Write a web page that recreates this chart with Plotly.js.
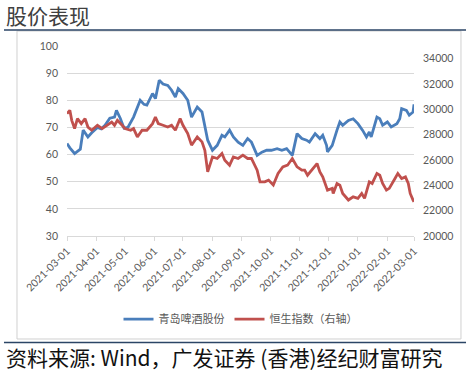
<!DOCTYPE html>
<html><head><meta charset="utf-8">
<script src="https://cdn.plot.ly/plotly-3.0.1.min.js"></script>
<style>html,body{margin:0;padding:0;background:#fff;}#chart{width:468px;height:376px;}</style>
</head><body><div id="chart"></div>
<script>
const seriesNames = ['青岛啤酒股份', '恒生指数（右轴）'];
const qdDates = ['2021-03-01','2021-03-04','2021-03-09','2021-03-15','2021-03-18','2021-03-23','2021-03-27','2021-04-02','2021-04-06','2021-04-10','2021-04-15','2021-04-20','2021-04-22','2021-04-26','2021-04-30','2021-05-04','2021-05-10','2021-05-14','2021-05-17','2021-05-21','2021-05-24','2021-05-30','2021-06-02','2021-06-06','2021-06-10','2021-06-15','2021-06-19','2021-06-23','2021-06-26','2021-07-01','2021-07-06','2021-07-10','2021-07-16','2021-07-21','2021-07-24','2021-07-27','2021-08-01','2021-08-06','2021-08-11','2021-08-14','2021-08-19','2021-08-23','2021-08-28','2021-09-02','2021-09-07','2021-09-11','2021-09-17','2021-09-22','2021-09-27','2021-10-02','2021-10-08','2021-10-13','2021-10-18','2021-10-24','2021-10-29','2021-11-03','2021-11-08','2021-11-11','2021-11-17','2021-11-22','2021-11-25','2021-11-29','2021-11-30','2021-12-05','2021-12-10','2021-12-13','2021-12-16','2021-12-22','2021-12-27','2022-01-01','2022-01-06','2022-01-10','2022-01-13','2022-01-15','2022-01-21','2022-01-24','2022-01-27','2022-02-01','2022-02-05','2022-02-11','2022-02-14','2022-02-16','2022-02-21','2022-02-24','2022-02-28','2022-03-01'];
const qdVals = [64.1,62.5,60.4,62,69,66.5,68,70,69.5,70.8,73.4,73.8,76.3,73.4,69.7,70,73.8,77,80,78.5,78.2,82.5,80.6,87.4,86,85.5,83.7,81.2,84.3,82.5,80,73.8,77.5,75.7,70.2,65.3,61.6,63.4,67.1,66.5,69,66.5,64.6,63.4,65.9,64.6,59.7,60.9,61.6,61.6,62.2,61.6,62.2,59.7,67.7,65.9,65.3,64.6,67.7,65.9,67.1,63.4,61,63.4,69,72,70.8,72.6,73.2,71.4,68.9,66.5,68.3,66.5,73.8,73.2,70.8,72,70.2,71.4,73.2,76.9,76.3,74.5,75.7,78.5];
const hsDates = ['2021-03-01','2021-03-04','2021-03-06','2021-03-09','2021-03-12','2021-03-16','2021-03-20','2021-03-23','2021-03-27','2021-04-02','2021-04-07','2021-04-12','2021-04-17','2021-04-20','2021-04-23','2021-04-28','2021-05-01','2021-05-07','2021-05-10','2021-05-14','2021-05-19','2021-05-24','2021-05-30','2021-06-02','2021-06-05','2021-06-10','2021-06-15','2021-06-19','2021-06-23','2021-06-28','2021-07-01','2021-07-06','2021-07-10','2021-07-16','2021-07-21','2021-07-24','2021-07-27','2021-08-01','2021-08-06','2021-08-11','2021-08-14','2021-08-19','2021-08-23','2021-08-28','2021-09-02','2021-09-07','2021-09-11','2021-09-17','2021-09-20','2021-09-25','2021-09-29','2021-10-04','2021-10-09','2021-10-14','2021-10-19','2021-10-24','2021-10-29','2021-11-03','2021-11-06','2021-11-09','2021-11-17','2021-11-19','2021-11-22','2021-11-25','2021-11-30','2021-12-05','2021-12-06','2021-12-10','2021-12-13','2021-12-16','2021-12-22','2021-12-27','2022-01-01','2022-01-05','2022-01-08','2022-01-13','2022-01-16','2022-01-21','2022-01-24','2022-01-27','2022-01-31','2022-02-03','2022-02-09','2022-02-12','2022-02-16','2022-02-20','2022-02-23','2022-02-25','2022-02-28','2022-03-01'];
const hsVals = [29660,29920,29130,28480,29270,28870,29270,28600,28350,28740,28480,28740,29000,28740,29130,28740,28480,28350,28480,27820,28350,28350,28870,29390,28870,28740,28600,28740,28350,29270,28740,28090,27170,27820,27430,26770,25060,26240,26120,26510,25980,25590,26240,26120,26380,26120,26120,25200,24280,24280,24410,24020,24940,25460,25590,26120,25460,25200,25200,24800,25590,25720,25060,24670,23620,23760,23360,24150,24020,23360,22840,23090,22970,23360,22970,24280,24150,24940,24800,24150,23620,23760,24540,24940,24540,24670,24150,23360,22840,22700];
const tickDates = ['2021-03-01','2021-04-01','2021-05-01','2021-06-01','2021-07-01','2021-08-01','2021-09-01','2021-10-01','2021-11-01','2021-12-01','2022-01-01','2022-02-01','2022-03-01'];
const titleText = '股价表现';
const sourceText = '资料来源: Wind，广发证券 (香港)经纪财富研究';

const tickFont = {family: 'Lato, "Noto Sans CJK SC", sans-serif', size: 10.5, color: '#595959'};
const navy = '#2b4566';

const traces = [
  {x: qdDates, y: qdVals, name: seriesNames[0], type: 'scatter', mode: 'lines',
   line: {color: '#4a7ebb', width: 2.8}, yaxis: 'y'},
  {x: hsDates, y: hsVals, name: seriesNames[1], type: 'scatter', mode: 'lines',
   line: {color: '#c0504d', width: 2.8}, yaxis: 'y2'}
];

const layout = {
  width: 468, height: 376,
  margin: {l: 67, r: 54, t: 46, b: 140},
  paper_bgcolor: '#fff', plot_bgcolor: '#fff',
  showlegend: true,
  legend: {orientation: 'h', x: 0.5, xanchor: 'center', y: -0.437, yanchor: 'middle',
           font: {family: '"Noto Sans CJK SC", sans-serif', size: 11, color: '#595959'},
           bgcolor: 'rgba(0,0,0,0)'},
  xaxis: {type: 'date', range: ['2021-03-01', '2022-03-01'],
          tickvals: tickDates, ticktext: tickDates, tickangle: -45,
          tickfont: tickFont, showgrid: false, zeroline: false,
          showline: true, linecolor: '#d9d9d9', linewidth: 1,
          ticks: 'outside', ticklen: 4, tickcolor: '#d9d9d9'},
  yaxis: {range: [30, 100], dtick: 10, tick0: 30, tickfont: tickFont,
          showgrid: true, gridcolor: '#d9d9d9', gridwidth: 1, zeroline: false,
          showline: false, ticks: '', ticklabelstandoff: 8},
  yaxis2: {range: [20000, 35000], dtick: 2000, tick0: 20000, overlaying: 'y', side: 'right',
           tickformat: 'd',
           tickfont: tickFont, showgrid: false, zeroline: false, showline: false,
           ticks: '', ticklabelstandoff: 8},
  annotations: [
    {text: titleText, xref: 'paper', yref: 'paper', x: -0.1816, y: 1.163,
     xanchor: 'left', yanchor: 'middle', showarrow: false,
     font: {family: '"Noto Sans CJK SC", sans-serif', size: 21, color: '#404040'}},
    {text: sourceText, xref: 'paper', yref: 'paper', x: -0.1816, y: -0.637,
     xanchor: 'left', yanchor: 'middle', showarrow: false,
     font: {family: '"Noto Sans CJK SC", sans-serif', size: 21, color: '#111111'}}
  ],
  shapes: [
    {type: 'rect', xref: 'paper', yref: 'paper', x0: -0.1441, x1: 1.1354, y0: -0.5421, y1: 1.0789,
     line: {color: '#d0d0d0', width: 1}},
    {type: 'line', xref: 'paper', yref: 'paper', x0: -0.1816, x1: 1.1499, y0: 1.084, y1: 1.084,
     line: {color: navy, width: 1.5}},
    {type: 'line', xref: 'paper', yref: 'paper', x0: -0.1816, x1: 1.1499, y0: -0.5605, y1: -0.5605,
     line: {color: navy, width: 1.5}}
  ]
};

Plotly.newPlot('chart', traces, layout, {displayModeBar: false, staticPlot: true});
</script>
</body></html>
